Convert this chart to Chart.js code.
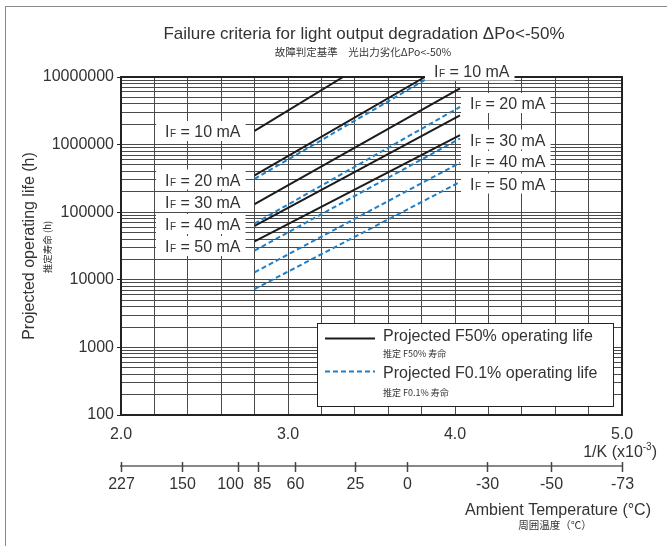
<!DOCTYPE html>
<html>
<head>
<meta charset="utf-8">
<script src="https://cdn.jsdelivr.net/npm/chart.js@4.4.1/dist/chart.umd.min.js"></script>
<style>
html, body { margin: 0; padding: 0; background: #fff; }
#wrap { position: relative; width: 667px; height: 546px; overflow: hidden; }
#frame { position: absolute; left: 5px; top: 6px; width: 662px; height: 540px; border-left: 1px solid #888; border-top: 1px solid #888; }
canvas { position: absolute; left: 0; top: 0; }
</style>
</head>
<body>
<div id="wrap">
  <div id="frame"></div>
  <canvas id="lifeChart" width="667" height="546"></canvas>
</div>
<script>
// forward current of each pair of lines (mA)
const currents = [10, 20, 30, 40, 50];

// Projected F50% life: ends of each line, 1/K (x10^-3) and hours
const f50StartK = [2.8, 2.8, 2.8, 2.8, 2.8];
const f50EndK = [3.33, 3.82, 4.03, 4.03, 4.03];
const f50StartLife = [1600000, 350000, 132000, 63000, 37000];
const f50EndLife = [10000000, 10000000, 6800000, 2700000, 1380000];

// Projected F0.1% life
const f01StartK = [2.8, 2.8, 2.8, 2.8, 2.8];
const f01EndK = [3.85, 4.03, 4.03, 4.03, 4.03];
const f01StartLife = [310000, 68000, 27000, 12900, 7300];
const f01EndLife = [10000000, 3600000, 1230000, 540000, 280000];

// axis labels
const yTickLabels = ['100', '1000', '10000', '100000', '1000000', '10000000'];
const xTickLabels = ['2.0', '3.0', '4.0', '5.0'];
const tempLabels = ['227', '150', '100', '85', '60', '25', '0', '-30', '-50', '-73'];
const tempInvK = [2.0, 2.364, 2.70, 2.82, 3.04, 3.40, 3.715, 4.19, 4.575, 5.0];

const latin = '"Liberation Sans", Arial, sans-serif';
const jp = '"Noto Sans CJK JP", sans-serif';
const ink = '#333';
const solidColor = '#1b1b1b';
const dashColor = '#1f7fc6';

Chart.defaults.font.family = latin;
Chart.defaults.color = ink;

let datasets = [];
for (let i in currents) {
    datasets.push({
        label: 'F50% IF=' + currents[i] + ' mA',
        data: [{x: f50StartK[i], y: f50StartLife[i]}, {x: f50EndK[i], y: f50EndLife[i]}],
        borderColor: solidColor,
        borderWidth: 2,
        pointRadius: 0
    });
    datasets.push({
        label: 'F0.1% IF=' + currents[i] + ' mA',
        data: [{x: f01StartK[i], y: f01StartLife[i]}, {x: f01EndK[i], y: f01EndLife[i]}],
        borderColor: dashColor,
        borderWidth: 2,
        borderDash: [5, 3],
        pointRadius: 0
    });
}

// where the "IF = .. mA" boxes sit (canvas px, left edge of text and middle)
const leftLabelPos = [[165, 131], [165, 179.5], [165, 202], [165, 224], [165, 246]];
const rightLabelPos = [[434, 70.5], [470, 103], [470, 139.5], [470, 161], [470, 183.5]];
// small sideways shifts so "100" and "85" do not collide
const tempNudge = [0, 0, -8, 4, 0, 0, 0, 0, 0, 0];

function drawIF(ctx, x, y, mA) {
    let big = '16px ' + latin;
    let small = '10px ' + latin;
    let rest = ' = ' + mA + ' mA';
    ctx.save();
    ctx.textAlign = 'left';
    ctx.textBaseline = 'alphabetic';
    ctx.font = big;
    let wI = ctx.measureText('I').width;
    let wR = ctx.measureText(rest).width;
    ctx.font = small;
    let wF = ctx.measureText('F').width + 0.5;
    ctx.fillStyle = '#fff';
    ctx.fillRect(x - 9, y - 10, wI + wF + wR + 14, 20);
    ctx.fillStyle = ink;
    let base = y + 6;
    ctx.font = big;
    ctx.fillText('I', x, base);
    ctx.font = small;
    ctx.fillText('F', x + wI + 0.5, base);
    ctx.font = big;
    ctx.fillText(rest, x + wI + wF, base);
    ctx.restore();
}

const decor = {
    id: 'decor',
    beforeDatasetsDraw(chart) {
        let {ctx, chartArea: a} = chart;
        ctx.save();
        ctx.strokeStyle = '#222';
        ctx.lineWidth = 2;
        ctx.strokeRect(a.left, a.top, a.right - a.left, a.bottom - a.top);
        ctx.restore();
    },
    afterDatasetsDraw(chart) {
        let ctx = chart.ctx;
        for (let i in currents) {
            drawIF(ctx, leftLabelPos[i][0], leftLabelPos[i][1], currents[i]);
            drawIF(ctx, rightLabelPos[i][0], rightLabelPos[i][1], currents[i]);
        }
    },
    afterDraw(chart) {
        let ctx = chart.ctx;
        let xT = chart.scales.xT;
        ctx.save();

        // titles
        ctx.fillStyle = ink;
        ctx.textAlign = 'center';
        ctx.textBaseline = 'middle';
        ctx.font = '17px ' + latin;
        ctx.fillText('Failure criteria for light output degradation ΔPo<-50%', 364, 34);
        ctx.font = '10.5px ' + jp;
        ctx.fillText('故障判定基準　光出力劣化ΔPo<-50%', 363, 52);

        // temperature axis: tick marks across the line and labels
        ctx.strokeStyle = '#444';
        ctx.lineWidth = 1.5;
        ctx.font = '16px ' + latin;
        for (let i in tempInvK) {
            let px = Math.round(xT.getPixelForValue(tempInvK[i])) + 0.5;
            ctx.beginPath();
            ctx.moveTo(px, xT.top - 4);
            ctx.lineTo(px, xT.top + 6);
            ctx.stroke();
            ctx.fillText(tempLabels[i], px + tempNudge[i], xT.top + 18.5);
        }

        // legend box
        ctx.fillStyle = '#fff';
        ctx.fillRect(317.5, 323.5, 296, 83);
        ctx.strokeStyle = '#222';
        ctx.lineWidth = 1;
        ctx.strokeRect(317.5, 323.5, 296, 83);
        ctx.lineWidth = 2;
        ctx.strokeStyle = solidColor;
        ctx.beginPath();
        ctx.moveTo(325, 338.5);
        ctx.lineTo(375, 338.5);
        ctx.stroke();
        ctx.strokeStyle = dashColor;
        ctx.setLineDash([5, 3]);
        ctx.beginPath();
        ctx.moveTo(325, 371.5);
        ctx.lineTo(375, 371.5);
        ctx.stroke();
        ctx.setLineDash([]);
        ctx.fillStyle = ink;
        ctx.textAlign = 'left';
        ctx.textBaseline = 'alphabetic';
        ctx.font = '16px ' + latin;
        ctx.fillText('Projected F50% operating life', 383, 341);
        ctx.fillText('Projected F0.1% operating life', 383, 378);
        ctx.textBaseline = 'middle';
        ctx.font = '9px ' + jp;
        ctx.fillText('推定 F50% 寿命', 383, 354);
        ctx.fillText('推定 F0.1% 寿命', 383, 393);

        // 1/K (x10^-3)
        ctx.textBaseline = 'alphabetic';
        ctx.font = '16px ' + latin;
        let p1 = '1/K (x10';
        let w1 = ctx.measureText(p1).width;
        let w3 = ctx.measureText(')').width;
        ctx.font = '10px ' + latin;
        let w2 = ctx.measureText('-3').width;
        let x0 = 657 - w1 - w2 - w3;
        ctx.font = '16px ' + latin;
        ctx.fillText(p1, x0, 457);
        ctx.fillText(')', x0 + w1 + w2, 457);
        ctx.font = '10px ' + latin;
        ctx.fillText('-3', x0 + w1, 450);

        // temperature axis title
        ctx.font = '16px ' + latin;
        ctx.textAlign = 'right';
        ctx.fillText('Ambient Temperature (°C)', 651, 515);
        ctx.textAlign = 'center';
        ctx.textBaseline = 'middle';
        ctx.font = '10.5px ' + jp;
        ctx.fillText('周囲温度（℃）', 555, 525);

        // Japanese under the y title
        ctx.font = '9.5px ' + jp;
        ctx.translate(47.5, 247);
        ctx.rotate(-Math.PI / 2);
        ctx.fillText('推定寿命 (h)', 0, 0);
        ctx.restore();
    }
};

const ctx = document.getElementById('lifeChart').getContext('2d');
const lifeChart = new Chart(ctx, {
    type: 'line',
    data: {datasets: datasets},
    options: {
        responsive: false,
        animation: false,
        layout: {padding: {left: 0, right: 45, top: 77, bottom: 0}},
        plugins: {
            legend: {display: false},
            tooltip: {enabled: false},
            title: {display: false},
            subtitle: {display: false}
        },
        scales: {
            x: {
                type: 'linear',
                position: 'bottom',
                weight: 0,
                min: 2,
                max: 5,
                afterFit: s => { s.height = 51; },
                ticks: {
                    stepSize: 0.2,
                    autoSkip: false,
                    maxRotation: 0,
                    padding: 10,
                    font: {size: 16},
                    color: ink,
                    callback: v => {
                        let k = xTickLabels.indexOf(Number(v).toFixed(1));
                        return Math.abs(v - Math.round(v)) < 1e-6 && k >= 0 ? xTickLabels[k] : '';
                    }
                },
                grid: {color: '#4a4a4a', lineWidth: 1, drawTicks: false},
                border: {display: false}
            },
            xT: {
                type: 'linear',
                position: 'bottom',
                weight: 1,
                min: 2,
                max: 5,
                afterFit: s => { s.height = 80; },
                afterBuildTicks: s => { s.ticks = tempInvK.map(v => ({value: v})); },
                ticks: {display: false},
                grid: {display: false},
                border: {display: true, color: '#888', width: 2}
            },
            y: {
                type: 'logarithmic',
                min: 100,
                max: 10000000,
                afterFit: s => { s.width = 121; },
                afterBuildTicks: s => {
                    let t = [];
                    for (let e = 2; e < 7; e++) {
                        for (let m = 1; m < 10; m++) {
                            t.push({value: m * Math.pow(10, e)});
                        }
                    }
                    t.push({value: 10000000});
                    s.ticks = t;
                },
                ticks: {
                    autoSkip: false,
                    padding: 3,
                    font: {size: 16},
                    color: ink,
                    callback: v => yTickLabels.includes(String(v)) ? String(v) : ''
                },
                grid: {
                    color: '#4a4a4a',
                    lineWidth: 1,
                    tickLength: 4,
                    tickColor: c => yTickLabels.includes(String(c.tick.value)) ? '#222' : 'rgba(0,0,0,0)'
                },
                border: {display: false},
                title: {
                    display: true,
                    text: 'Projected operating life (h)',
                    color: ink,
                    font: {size: 16},
                    padding: {top: 20, bottom: 0}
                }
            }
        }
    },
    plugins: [decor]
});
</script>
</body>
</html>
